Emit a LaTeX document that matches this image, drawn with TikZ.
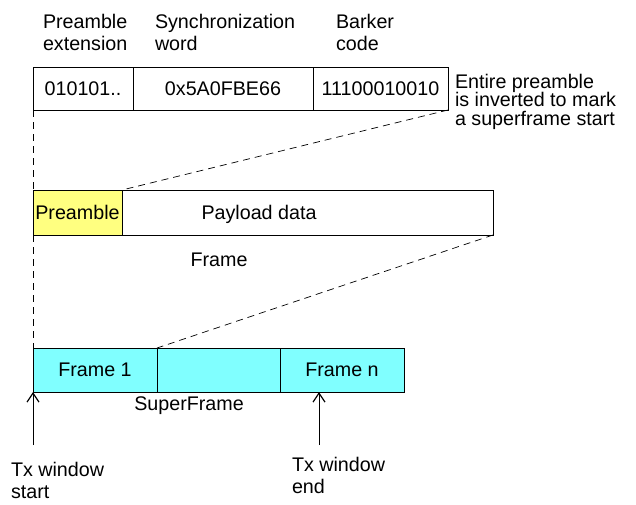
\documentclass[tikz,border=0pt]{standalone}
\usepackage{fontspec}
\setmainfont{Liberation Sans}
\usetikzlibrary{arrows.meta,positioning,calc}
\definecolor{preyellow}{RGB}{255,255,128}
\definecolor{sfcyan}{RGB}{128,255,255}
\tikzset{
    >={Straight Barb[length=9pt,width=12pt,line width=1.2pt]},
    every node/.style={font=\fontsize{19.7}{21.5}\selectfont, inner sep=0pt, outer sep=0pt},
    cell/.style={draw, line width=0.8pt, minimum height=43pt, anchor=north west},
    lbl/.style={align=left, anchor=base west},
    guide/.style={line width=0.7pt, dash pattern=on 7pt off 5pt},
}
\begin{document}
\begin{tikzpicture}[x=1pt, y=-1pt]
            \useasboundingbox (0,0) rectangle (636,504);

            \node[lbl] (extlbl) at (43,50) {Preamble\\extension};
            \node[lbl] (synclbl) at (155,50) {Synchronization\\word};
            \node[lbl] (barklbl) at (336,50) {Barker\\code};

            \node[cell, minimum width=100pt] (ext) at (33,67) {010101..};
            \node[cell, minimum width=180pt, right=0pt of ext] (sync) {0x5A0FBE66};
            \node[cell, minimum width=135pt, right=0pt of sync] (bark) {11100010010};
            \node[lbl, font=\fontsize{19.7}{18.5}\selectfont] (note) at (455,125) {Entire preamble\\is inverted to mark\\a superframe start};

            \node[cell, fill=preyellow, minimum width=89pt, minimum height=45pt] (pre) at (33,190) {Preamble};
            \node[cell, minimum width=371pt, minimum height=45pt, right=0pt of pre] (pay) {};
            \node (paytxt) at (259,214) {Payload data};
            \node (frm) at (219,260) {Frame};

            \node[cell, fill=sfcyan, minimum width=124pt, minimum height=44pt] (f1) at (33,348) {Frame 1};
            \node[cell, fill=sfcyan, minimum width=123pt, minimum height=44pt, right=0pt of f1] (fmid) {};
            \node[cell, fill=sfcyan, minimum width=124pt, minimum height=44pt, right=0pt of fmid] (fn) {Frame n};
            \node (sf) at (189,406) {SuperFrame};

            \coordinate (startbot) at (33,445);
            \coordinate (endbot) at (319,445);
            \draw[->, line width=0.9pt] (startbot) -- (f1.south west);
            \draw[->, line width=0.9pt] (endbot) -- (endbot |- fn.south);
            \node[lbl] (txstart) at (11,498) {Tx window\\start};
            \node[lbl] (txend) at (292,493) {Tx window\\end};

            \draw[guide] (ext.south west) -- (pre.north west);
            \draw[guide] (pre.south west) -- (f1.north west);
            \draw[guide] (bark.south east) -- (pre.north east);
            \draw[guide] (pay.south east) -- (f1.north east);
        \end{tikzpicture}
\end{document}
